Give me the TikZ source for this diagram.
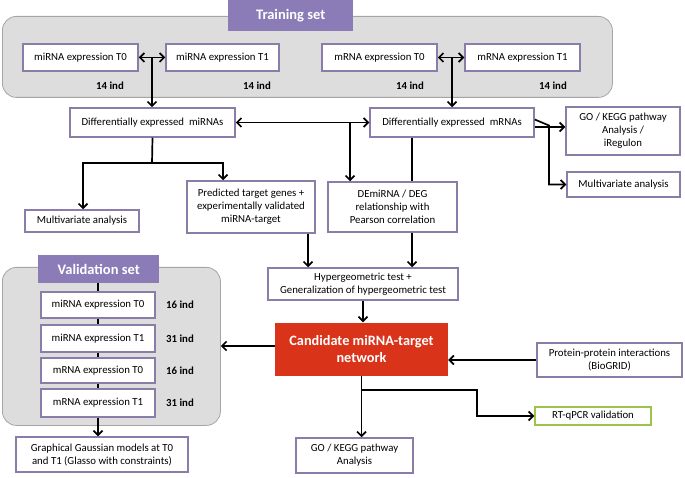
\documentclass[tikz,border=0pt]{standalone}
\usepackage{fontspec}
\setmainfont{Carlito}
\usetikzlibrary{arrows.meta}
\definecolor{boxc}{HTML}{8A7DAA}
\definecolor{hdrc}{HTML}{8B7CB8}
\definecolor{bgc}{HTML}{DDDDDD}
\definecolor{bgline}{HTML}{A5A5A5}
\definecolor{redc}{HTML}{D9341A}
\definecolor{greenc}{HTML}{9CC44C}
\tikzset{
  bx/.style={draw=boxc, line width=1.5pt, fill=white, align=center, inner sep=1pt,
    font=\fontsize{10.8}{13}\selectfont},
  bgbox/.style={draw=bgline, line width=0.8pt, fill=bgc, rounded corners=14pt},
  hdr/.style={fill=hdrc, text=white, font=\fontsize{14.5}{16}\selectfont\bfseries, inner sep=0pt},
  ind/.style={font=\fontsize{10.8}{12}\selectfont\bfseries},
  arr/.style={line width=1.7pt, -{Straight Barb[length=4.5pt,width=9pt,line width=1.7pt]}},
  darr/.style={line width=1.7pt, {Straight Barb[length=4.5pt,width=9pt,line width=1.7pt]}-{Straight Barb[length=4.5pt,width=9pt,line width=1.7pt]}},
  ln/.style={line width=1.7pt},
}
\begin{document}
\begin{tikzpicture}[x=1pt,y=-1pt]
\useasboundingbox (0,0) rectangle (685,478);
% backgrounds
\node[bgbox, minimum width=610, minimum height=81, anchor=north west] (trainbg) at (2,16) {};
\node[hdr, minimum width=125, minimum height=31, anchor=north west] (trainhdr) at (228,0) {Training set};
\node[bgbox, minimum width=218, minimum height=158, anchor=north west] (valbg) at (2,267) {};
\node[hdr, minimum width=121, minimum height=28, anchor=north west] (valhdr) at (38,255) {Validation set};

% training boxes
\node[bx, minimum width=115, minimum height=27] (miT0) at (80.5,57.5) {miRNA expression T0};
\node[bx, minimum width=113, minimum height=27] (miT1) at (222.5,57.5) {miRNA expression T1};
\node[bx, minimum width=115, minimum height=27] (mT0) at (379.5,57.5) {mRNA expression T0};
\node[bx, minimum width=115, minimum height=27] (mT1) at (522.5,57.5) {mRNA expression T1};
\node[ind] (i1) at (110,86) {14 ind};
\node[ind] (i2) at (257,86) {14 ind};
\node[ind] (i3) at (410,86) {14 ind};
\node[ind] (i4) at (553,86) {14 ind};

\node[bx, minimum width=165, minimum height=29] (demi) at (152.5,122.5) {Differentially expressed \ miRNAs};
\node[bx, minimum width=164, minimum height=29] (dem) at (452,122.5) {Differentially expressed \ mRNAs};
\node[bx, minimum width=114, minimum height=48] (gok1) at (623,131) {GO / KEGG pathway\\Analysis /\\iRegulon};
\node[bx, minimum width=113, minimum height=25] (mvr) at (623.5,184.5) {Multivariate analysis};
\node[bx, minimum width=114, minimum height=22] (mvl) at (82,221) {Multivariate analysis};
\node[bx, minimum width=128, minimum height=52] (pred) at (251,207) {Predicted target genes +\\experimentally validated\\miRNA-target};
\node[bx, minimum width=129, minimum height=50] (demirel) at (392.5,207) {DEmiRNA / DEG\\relationship with\\Pearson correlation};
\node[bx, minimum width=190, minimum height=32] (hyper) at (363,284) {Hypergeometric test +\\Generalization of hypergeometric test};
\node[fill=redc, text=white, align=center, minimum width=173, minimum height=53,
  font=\fontsize{14.3}{17}\selectfont\bfseries] (cand) at (361.5,349) {Candidate miRNA-target\\network};
\node[bx, minimum width=145, minimum height=34] (ppi) at (609.5,360) {Protein-protein interactions\\(BioGRID)};
\node[bx, draw=greenc, minimum width=116, minimum height=18] (rt) at (593,416) {RT-qPCR validation};
\node[bx, minimum width=117, minimum height=35] (gok2) at (354.5,455.5) {GO / KEGG pathway\\Analysis};

% validation boxes
\node[bx, minimum width=114, minimum height=26] (vmiT0) at (98,305) {miRNA expression T0};
\node[bx, minimum width=114, minimum height=27] (vmiT1) at (98,338.5) {miRNA expression T1};
\node[bx, minimum width=114, minimum height=25] (vmT0) at (98,370.5) {mRNA expression T0};
\node[bx, minimum width=114, minimum height=28] (vmT1) at (98,403) {mRNA expression T1};
\node[ind] (v1) at (180,305) {16 ind};
\node[ind] (v2) at (180,338.5) {31 ind};
\node[ind] (v3) at (180,371) {16 ind};
\node[ind] (v4) at (180,403) {31 ind};
\node[bx, minimum width=172, minimum height=35] (ggm) at (102,454.5) {Graphical Gaussian models at T0\\and T1 (Glasso with constraints)};

% connectors: training
\draw[darr] (miT0.east) -- (miT1.west);
\coordinate (j1) at (152,57.5);
\draw[arr] (j1) -- (j1 |- demi.north);
\draw[darr] (mT0.east) -- (mT1.west);
\coordinate (j2) at (452,57.5);
\draw[arr] (j2) -- (j2 |- dem.north);
\draw[darr] (demi.east) -- (dem.west);
\coordinate (j3) at (350,122.5);
\draw[arr] (j3) -- (j3 |- demirel.north);
\draw[ln] ([xshift=-40]dem.south) -- ([xshift=-40]dem.south |- demirel.north);
\draw[arr] ([xshift=19.5]demirel.south) -- ([xshift=19.5]demirel.south |- hyper.north);
% right side of DE mRNAs
\draw[arr] ([yshift=-4.5]dem.east) -- ([yshift=-4.5]dem.east -| gok1.west);
\coordinate (j4) at (549,125.5);
\draw[arr] ([yshift=3]dem.east) -- (j4) -- (j4 |- mvr.west) -- (mvr.west);
% left branch from DE miRNAs
\coordinate (j5) at (152,163);
\coordinate (j6) at (83,163);
\coordinate (j7) at (223,163);
\draw[ln] (demi.south) -- (j5);
\draw[arr] (j5) -- (j6) -- (j6 |- mvl.north);
\draw[arr] (j5) -- (j7) -- (j7 |- pred.north);
\draw[arr] ([xshift=57]pred.south) -- ([xshift=57]pred.south |- hyper.north);
\draw[arr] (hyper.south) -- (hyper.south |- cand.north);
\draw[arr] (ppi.west) -- (ppi.west -| cand.east);
\draw[arr] ([yshift=3]cand.west) -- ([yshift=3]cand.west -| valbg.east);
\draw[arr] (cand.south) -- (cand.south |- gok2.north);
\coordinate (j8) at (361.5,390);
\coordinate (j9) at (477,390);
\draw[arr] (j8) -- (j9) -- (j9 |- rt.west) -- (rt.west);
% validation chain
\draw[line width=1.2pt] (valhdr.south -| vmiT0.north) -- (vmiT0.north);
\draw[line width=1.2pt] (vmiT0.south) -- (vmiT1.north);
\draw[line width=1.2pt] (vmiT1.south) -- (vmT0.north);
\draw[line width=1.2pt] (vmT0.south) -- (vmT1.north);
\draw[arr] (vmT1.south) -- (vmT1.south |- ggm.north);
\end{tikzpicture}
\end{document}
